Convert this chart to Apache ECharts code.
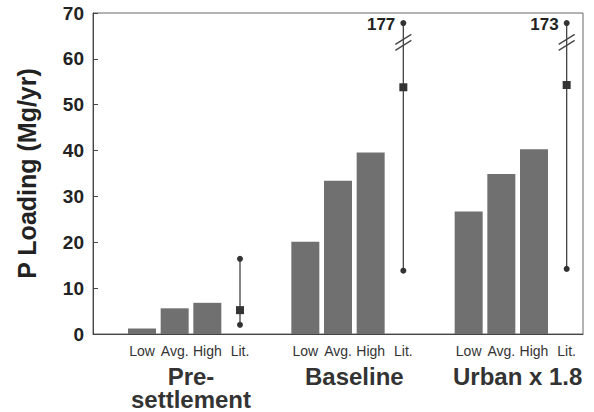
<!DOCTYPE html>
<html>
<head>
<meta charset="utf-8">
<script src="https://cdn.jsdelivr.net/npm/echarts@6/dist/echarts.min.js"></script>
<style>
  html, body { margin: 0; padding: 0; background: #fff; }
  #chart { width: 594px; height: 412px; }
</style>
</head>
<body>
<div id="chart"></div>
<script>
// scenario groups and the four columns inside each
const groups = ['Pre-\nsettlement', 'Baseline', 'Urban x 1.8'];
const levels = ['Low', 'Avg.', 'High', 'Lit.'];

// modelled loadings (Mg/yr)
const lowLoad = [1.2, 20.1, 26.7];
const avgLoad = [5.6, 33.4, 34.9];
const highLoad = [6.8, 39.6, 40.3];

// literature range: min, typical, max
const litMin = [2.0, 13.8, 14.2];
const litMid = [5.2, 53.8, 54.3];
const litMax = [16.4, 177, 173];

const yMax = 70;
const breakAt = 67.8; // where off-scale maxima are drawn

// one empty slot before each group, then Low/Avg/High/Lit
const categories = [];
const barData = [];
const litData = [];
groups.forEach((g, i) => {
  categories.push('');
  barData.push(null);
  categories.push(...levels);
  barData.push(lowLoad[i], avgLoad[i], highLoad[i], null);
  litData.push([i * 5 + 4, litMin[i], litMid[i], litMax[i]]);
});

const chart = echarts.init(document.getElementById('chart'), null, { renderer: 'svg' });

const ink = '#444';

chart.setOption({
  animation: false,
  grid: {
    left: 93, right: 11, top: 13, bottom: 78,
    show: true, borderColor: '#666', borderWidth: 1
  },
  xAxis: [
    {
      type: 'category',
      data: categories,
      axisLine: { lineStyle: { color: ink } },
      axisTick: { show: false },
      axisLabel: {
        interval: 0, margin: 10,
        fontFamily: 'Liberation Sans', fontSize: 14, color: '#333'
      }
    },
    {
      // group names sit between the Avg. and High columns
      type: 'value',
      position: 'bottom',
      min: 0, max: categories.length, interval: 1,
      axisLine: { show: false },
      axisTick: { show: false },
      splitLine: { show: false },
      axisLabel: {
        margin: 31,
        fontFamily: 'Liberation Sans', fontWeight: 'bold', fontSize: 24,
        lineHeight: 23, color: '#333',
        formatter: v => {
          const i = (v - 3) / 5;
          return Number.isInteger(i) && groups[i] ? groups[i] : '';
        }
      }
    }
  ],
  yAxis: {
    type: 'value',
    min: 0, max: yMax, interval: 10,
    name: 'P Loading (Mg/yr)',
    nameLocation: 'middle',
    nameGap: 54,
    nameTextStyle: {
      fontFamily: 'Liberation Sans', fontWeight: 'bold', fontSize: 25, color: '#222'
    },
    axisLine: { show: true, lineStyle: { color: ink } },
    axisTick: { show: true, inside: true, length: 5, lineStyle: { color: ink } },
    splitLine: { show: false },
    axisLabel: {
      margin: 9,
      fontFamily: 'Liberation Sans', fontWeight: 'bold', fontSize: 19, color: '#222'
    }
  },
  series: [
    {
      type: 'bar',
      data: barData,
      barWidth: 28,
      itemStyle: { color: '#707070' }
    },
    {
      type: 'custom',
      data: litData,
      renderItem: (params, api) => {
        const x = api.value(0);
        const top = api.value(3);
        const off = top > yMax;
        const pLow = api.coord([x, api.value(1)]);
        const pMid = api.coord([x, api.value(2)]);
        const pTop = api.coord([x, off ? breakAt : top]);
        const line = { stroke: ink, lineWidth: 1.3 };
        const kids = [
          { type: 'line', shape: { x1: pLow[0], y1: pLow[1], x2: pTop[0], y2: pTop[1] }, style: line },
          { type: 'circle', shape: { cx: pLow[0], cy: pLow[1], r: 3 }, style: { fill: '#333' } },
          { type: 'circle', shape: { cx: pTop[0], cy: pTop[1], r: 3 }, style: { fill: '#333' } },
          { type: 'rect', shape: { x: pMid[0] - 4, y: pMid[1] - 4, width: 8, height: 8 }, style: { fill: '#333' } }
        ];
        if (off) {
          const b = api.coord([x, 63.6]);
          [-3, 3].forEach(d => {
            kids.push({
              type: 'line',
              shape: { x1: b[0] - 8, y1: b[1] + d + 5, x2: b[0] + 8, y2: b[1] + d - 5 },
              style: line
            });
          });
          kids.push({
            type: 'text',
            style: {
              text: String(top), x: pTop[0] - 8, y: pTop[1] + 1,
              align: 'right', verticalAlign: 'middle',
              font: 'bold 17px "Liberation Sans"', fill: '#222'
            }
          });
        }
        return { type: 'group', children: kids };
      }
    }
  ]
});
</script>
</body>
</html>
